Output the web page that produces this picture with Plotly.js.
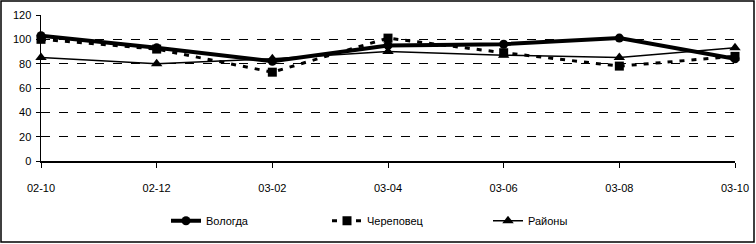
<!DOCTYPE html>
<html>
<head>
<meta charset="utf-8">
<script src="https://cdn.plot.ly/plotly-3.0.1.min.js"></script>
<style>html,body{margin:0;padding:0;background:#fff;}#chart{width:756px;height:244px;}</style>
</head>
<body>
<div id="chart"></div>
<script>
const categories = ["02-10", "02-12", "03-02", "03-04", "03-06", "03-08", "03-10"];
const vologda = [103, 93, 82, 95, 96, 101, 84];
const cherepovets = [100, 92, 73, 101, 89, 78, 86];
const rayony = [85, 80, 84, 90, 87, 85, 93];
const seriesNames = ["Вологда", "Череповец", "Районы"];
const yTicks = [0, 20, 40, 60, 80, 100, 120];

const traces = [
  {x: categories, y: vologda, name: seriesNames[0], type: "scatter", mode: "lines+markers",
   line: {color: "#000", width: 4}, marker: {symbol: "circle", size: 9, color: "#000"}, cliponaxis: false},
  {x: categories, y: cherepovets, name: seriesNames[1], type: "scatter", mode: "lines+markers",
   line: {color: "#000", width: 3, dash: "5px,7px"}, marker: {symbol: "square", size: 9, color: "#000"}, cliponaxis: false},
  {x: categories, y: rayony, name: seriesNames[2], type: "scatter", mode: "lines+markers",
   line: {color: "#000", width: 1.5}, marker: {symbol: "triangle-up", size: 10, color: "#000"}, cliponaxis: false}
];

const L = 41, R = 21, T = 15, B = 83, W = 756, H = 244;
const pw = W - L - R, ph = H - T - B;

const layout = {
  width: W, height: H,
  margin: {l: L, r: R, t: T, b: B, pad: 0, autoexpand: false},
  paper_bgcolor: "#fff", plot_bgcolor: "#fff",
  font: {family: "Liberation Sans, Arial, sans-serif", size: 11, color: "#000"},
  showlegend: true,
  legend: {orientation: "h", x: (166 - L) / pw, xanchor: "left", y: -0.31, yanchor: "top",
           entrywidth: 116, entrywidthmode: "pixels", font: {size: 11, color: "#000"}},
  xaxis: {type: "category", categoryorder: "array", categoryarray: categories, range: [0, 6],
          showline: true, linecolor: "#000", linewidth: 1.5, showgrid: false, zeroline: false,
          ticks: "outside", ticklen: 5, tickcolor: "#000", tickwidth: 1,
          ticklabelstandoff: 11, fixedrange: true, automargin: false},
  yaxis: {range: [0, 120], tickvals: yTicks, ticktext: yTicks.map(String),
          showline: true, linecolor: "#000", linewidth: 1.5,
          showgrid: true, gridcolor: "#000", gridwidth: 1, griddash: "dash", zeroline: false,
          ticks: "outside", ticklen: 4, tickcolor: "#000", ticklabelstandoff: 2, fixedrange: true,
          automargin: false},
  shapes: [{type: "rect", xref: "paper", yref: "paper", layer: "above",
            x0: (1 - L) / pw, x1: (W - 2 - L) / pw,
            y0: (H - B - (H - 2)) / ph, y1: (H - B - 1) / ph,
            line: {color: "#000", width: 1.5}}]
};

Plotly.newPlot("chart", traces, layout, {displayModeBar: false, staticPlot: true});
</script>
</body>
</html>
